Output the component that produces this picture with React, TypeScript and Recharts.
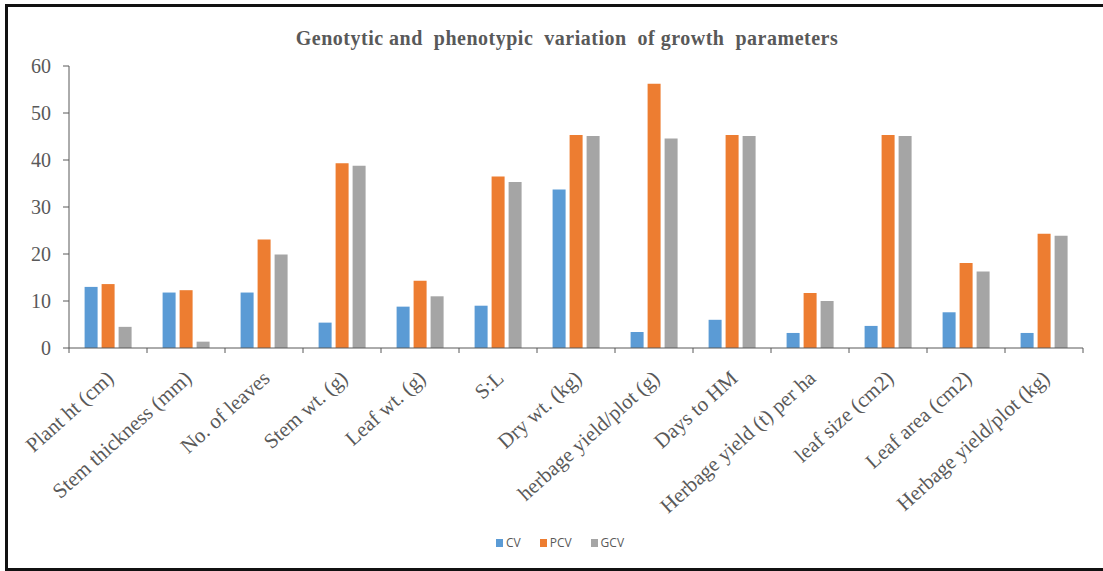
import { BarChart, Bar, XAxis, YAxis, Legend } from "recharts";

const categories = [
  "Plant ht (cm)",
  "Stem thickness (mm)",
  "No. of leaves",
  "Stem wt. (g)",
  "Leaf wt. (g)",
  "S:L",
  "Dry wt. (kg)",
  "herbage yield/plot (g)",
  "Days to HM",
  "Herbage yield (t) per ha",
  "leaf size (cm2)",
  "Leaf area (cm2)",
  "Herbage yield/plot (kg)",
];
const cv = [13.0, 11.8, 11.8, 5.4, 8.8, 9.0, 33.7, 3.4, 6.0, 3.2, 4.7, 7.6, 3.2];
const pcv = [13.6, 12.3, 23.1, 39.3, 14.3, 36.5, 45.3, 56.2, 45.3, 11.7, 45.3, 18.1, 24.3];
const gcv = [4.5, 1.35, 19.9, 38.8, 11.0, 35.3, 45.1, 44.6, 45.1, 10.0, 45.1, 16.3, 23.9];
const yTicks = [0, 10, 20, 30, 40, 50, 60];
const seriesNames = ["CV", "PCV", "GCV"];
const seriesColors = ["#5B9BD5", "#ED7D31", "#A5A5A5"];

const data = categories.map((name, i) => ({
  name,
  CV: cv[i],
  PCV: pcv[i],
  GCV: gcv[i],
}));

const W = 1095;
const H = 561;
const MARGIN = { top: 59, right: 20, left: 0, bottom: 0 };
const Y_W = 61;
const BAND = (W - MARGIN.left - MARGIN.right - Y_W) / categories.length;
const AXIS = "#595959";

function CategoryTick(props: any) {
  const { x, y, payload, index } = props;
  const half = BAND / 2;
  const tx = x + 7;
  const ty = y + 32;
  return (
    <g>
      <line x1={x - half} x2={x - half} y1={y} y2={y + 5} stroke={AXIS} />
      {index === categories.length - 1 && (
        <line x1={x + half} x2={x + half} y1={y} y2={y + 5} stroke={AXIS} />
      )}
      <text
        x={tx}
        y={ty}
        textAnchor="end"
        transform={`rotate(-42 ${tx} ${ty})`}
        fontFamily="'Liberation Serif', serif"
        fontSize={21}
        fill="#595959"
      >
        {payload.value}
      </text>
    </g>
  );
}

function LegendBox() {
  return (
    <div
      style={{
        display: "flex",
        justifyContent: "center",
        gap: 19,
        fontFamily: "'Open Sans', sans-serif",
        fontSize: 12,
        color: "#595959",
        lineHeight: "16px",
      }}
    >
      {seriesNames.map((n, i) => (
        <span key={n} style={{ display: "flex", alignItems: "center", gap: 3 }}>
          <span style={{ width: 7, height: 8, background: seriesColors[i], display: "inline-block" }} />
          {n}
        </span>
      ))}
    </div>
  );
}

export default function App() {
  return (
    <div
      style={{
        position: "absolute",
        left: 5,
        top: 4,
        width: W,
        height: H,
        borderLeft: "3px solid #111",
        borderTop: "3px solid #111",
        borderBottom: "3px solid #111",
        background: "#fff",
      }}
    >
      <div
        style={{
          position: "absolute",
          top: 20,
          left: 0,
          width: 1118,
          textAlign: "center",
          fontFamily: "'Liberation Serif', serif",
          fontWeight: "bold",
          fontSize: 20,
          letterSpacing: 0.5,
          color: "#595959",
          whiteSpace: "pre",
        }}
      >
        {"Genotytic and  phenotypic  variation  of growth  parameters"}
      </div>
      <BarChart
        width={W}
        height={H}
        data={data}
        margin={MARGIN}
        barCategoryGap="20%"
        barGap={4}
      >
        <XAxis
          dataKey="name"
          interval={0}
          height={220}
          tickSize={0}
          tickMargin={0}
          tickLine={false}
          stroke={AXIS}
          tick={<CategoryTick />}
        />
        <YAxis
          width={Y_W}
          domain={[0, 60]}
          ticks={yTicks}
          interval={0}
          tickSize={6}
          tickMargin={12}
          stroke={AXIS}
          tick={{ fill: "#595959", fontSize: 20, fontFamily: "'Liberation Serif', serif" }}
        />
        <Legend
          verticalAlign="middle"
          align="center"
          layout="horizontal"
          content={<LegendBox />}
          wrapperStyle={{ top: 528, left: 0, width: 1104 }}
        />
        <Bar dataKey="CV" fill={seriesColors[0]} isAnimationActive={false} />
        <Bar dataKey="PCV" fill={seriesColors[1]} isAnimationActive={false} />
        <Bar dataKey="GCV" fill={seriesColors[2]} isAnimationActive={false} />
      </BarChart>
    </div>
  );
}
